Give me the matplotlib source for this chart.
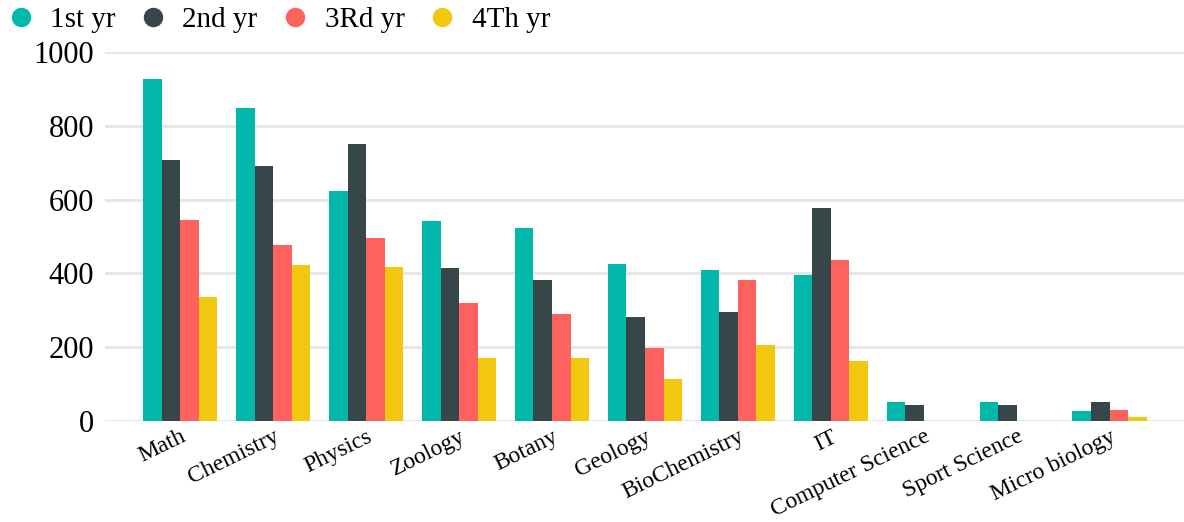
import numpy as np
import matplotlib
matplotlib.use('Agg')
import matplotlib.pyplot as plt
from matplotlib.lines import Line2D

plt.rcParams['font.family'] = ['Liberation Serif', 'DejaVu Serif']

subjects = ['Math', 'Chemistry', 'Physics', 'Zoology', 'Botany', 'Geology',
            'BioChemistry', 'IT', 'Computer Science', 'Sport Science',
            'Micro biology']
years = ['1st yr', '2nd yr', '3Rd yr', '4Th yr']
yr1 = [927, 849, 624, 543, 524, 424, 408, 395, 51, 52, 27]
yr2 = [708, 692, 751, 414, 381, 281, 295, 576, 43, 43, 51]
yr3 = [545, 476, 495, 319, 289, 197, 381, 435, 0, 0, 30]
yr4 = [335, 422, 416, 170, 170, 114, 205, 162, 0, 0, 11]
colors = ['#01B8AA', '#374649', '#FD625E', '#F2C80F']

fig = plt.figure(figsize=(11.84, 5.22), dpi=100)
ax = fig.add_axes([0.0887, 0.194, 0.9113, 0.706])

x = np.arange(len(subjects))
w = 0.2
for k, vals in enumerate([yr1, yr2, yr3, yr4]):
    ax.bar(x + (k - 1.5) * w, vals, width=w, color=colors[k], zorder=3)

ax.set_xlim(-0.81, 10.8)
ax.set_ylim(0, 1000)
ax.set_yticks([0, 200, 400, 600, 800, 1000])
ax.yaxis.grid(True, color='#e6e6e6', linewidth=2, zorder=0)
ax.tick_params(axis='y', length=0, pad=8, labelsize=22)
ax.tick_params(axis='x', length=0, pad=4, labelsize=17)
ax.set_xticks(x)
ax.set_xticklabels(subjects, rotation=26, ha='right', rotation_mode='anchor')
for s in ax.spines.values():
    s.set_visible(False)

handles = [Line2D([], [], marker='o', linestyle='none', markersize=13,
                  markerfacecolor=c, markeredgecolor=c) for c in colors]
fig.legend(handles, years, loc='upper left', bbox_to_anchor=(-0.022, 1.02),
           ncol=4, frameon=False, fontsize=21, handletextpad=0.0,
           columnspacing=0.3, borderaxespad=0.2)

fig.savefig('out.png', dpi=100)
